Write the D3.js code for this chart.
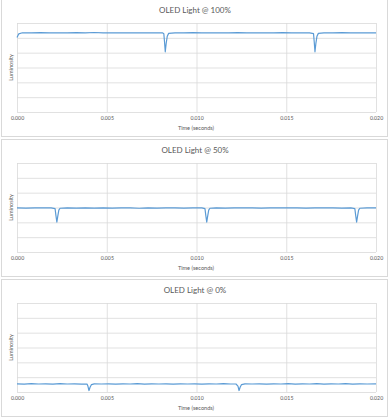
<!DOCTYPE html>
<html>
<head>
<meta charset="utf-8">
<script src="https://cdn.jsdelivr.net/npm/d3@7"></script>
<style>
    body { margin: 0; background: #fff; }
    svg { display: block; font-family: Lato, "Open Sans", sans-serif; }
</style>
</head>
<body>
<svg id="chart" width="390" height="419"></svg>
<script>
var titles = ["OLED Light @ 100%", "OLED Light @ 50%", "OLED Light @ 0%"];
var xTicks = [0, 0.005, 0.010, 0.015, 0.020];
var yTicks = [0, 1, 2, 3, 4, 5, 6];

// [time (s), luminosity]
var light100 = [
    [0.0000, 5.02], [0.0001, 5.27], [0.0003, 5.34], [0.0008, 5.33], [0.0013, 5.35],
    [0.0018, 5.33], [0.0023, 5.34], [0.0028, 5.33], [0.0033, 5.35], [0.0038, 5.34],
    [0.0043, 5.36], [0.0048, 5.33], [0.0053, 5.34], [0.0058, 5.34], [0.0063, 5.33],
    [0.0068, 5.34], [0.0073, 5.33], [0.0078, 5.34], [0.0081, 5.34], [0.00818, 5.28],
    [0.00822, 4.70], [0.00826, 4.06], [0.00831, 4.62], [0.00837, 5.10], [0.00845, 5.30],
    [0.0088, 5.34], [0.0093, 5.33], [0.0098, 5.35], [0.0103, 5.34], [0.0108, 5.33],
    [0.0113, 5.34], [0.0118, 5.33], [0.0123, 5.35], [0.0128, 5.34], [0.0133, 5.33],
    [0.0138, 5.34], [0.0143, 5.33], [0.0148, 5.35], [0.0153, 5.34], [0.0158, 5.34],
    [0.0163, 5.33], [0.01652, 5.28], [0.01656, 4.70], [0.01660, 4.06], [0.01665, 4.62],
    [0.01671, 5.10], [0.01679, 5.30], [0.0171, 5.34], [0.0176, 5.33], [0.0181, 5.35],
    [0.0186, 5.34], [0.0191, 5.33], [0.0196, 5.34], [0.0200, 5.34]
];

var light50 = [
    [0.0000, 2.97], [0.0005, 2.96], [0.0010, 2.98], [0.0015, 2.97], [0.0019, 2.97],
    [0.00212, 2.93], [0.00217, 2.45], [0.00222, 2.02], [0.00227, 2.40], [0.00233, 2.82],
    [0.0024, 2.95], [0.0028, 2.97], [0.0033, 2.96], [0.0038, 2.98], [0.0043, 2.96],
    [0.0048, 2.97], [0.0053, 2.96], [0.0058, 2.97], [0.0063, 2.97], [0.0068, 2.95],
    [0.0073, 2.97], [0.0078, 2.96], [0.0083, 2.97], [0.0088, 2.97], [0.0093, 2.96],
    [0.0098, 2.97], [0.0103, 2.97], [0.01047, 2.93], [0.01052, 2.45], [0.01057, 2.02],
    [0.01062, 2.40], [0.01068, 2.82], [0.01075, 2.95], [0.0111, 2.97], [0.0116, 2.96],
    [0.0121, 2.98], [0.0126, 2.97], [0.0131, 2.97], [0.0136, 2.96], [0.0141, 2.97],
    [0.0146, 2.98], [0.0151, 2.97], [0.0156, 2.97], [0.0161, 2.96], [0.0166, 2.98],
    [0.0171, 2.97], [0.0176, 2.97], [0.0181, 2.96], [0.0186, 2.97], [0.01882, 2.93],
    [0.01887, 2.45], [0.01892, 2.02], [0.01897, 2.40], [0.01903, 2.82], [0.0191, 2.95],
    [0.0195, 2.97], [0.0200, 2.97]
];

var light0 = [
    [0.0000, 0.55], [0.0004, 0.53], [0.0008, 0.56], [0.0012, 0.54], [0.0016, 0.55],
    [0.0020, 0.53], [0.0024, 0.56], [0.0028, 0.54], [0.0032, 0.55], [0.0036, 0.53],
    [0.0039, 0.54], [0.00395, 0.40], [0.00401, 0.10], [0.00407, 0.32], [0.00415, 0.50],
    [0.0043, 0.55], [0.0047, 0.54], [0.0051, 0.55], [0.0055, 0.53], [0.0059, 0.55],
    [0.0063, 0.54], [0.0067, 0.56], [0.0071, 0.53], [0.0075, 0.55], [0.0079, 0.54],
    [0.0083, 0.55], [0.0087, 0.53], [0.0091, 0.55], [0.0095, 0.54], [0.0099, 0.55],
    [0.0103, 0.53], [0.0107, 0.55], [0.0111, 0.54], [0.0115, 0.56], [0.0119, 0.54],
    [0.0122, 0.54], [0.01231, 0.40], [0.01237, 0.10], [0.01243, 0.32], [0.01251, 0.50],
    [0.0127, 0.55], [0.0131, 0.54], [0.0135, 0.55], [0.0139, 0.53], [0.0143, 0.55],
    [0.0147, 0.54], [0.0151, 0.56], [0.0155, 0.53], [0.0159, 0.55], [0.0163, 0.54],
    [0.0167, 0.56], [0.0171, 0.53], [0.0175, 0.55], [0.0179, 0.54], [0.0183, 0.56],
    [0.0187, 0.53], [0.0191, 0.55], [0.0195, 0.54], [0.0200, 0.55]
];

var series = [light100, light50, light0];

var Panels = {
    left: 17,
    right: 376,
    top: 23,
    bottom: 112,
    step: 140,

    render: function (svg) {
        var me = this;
        var x = d3.scaleLinear().domain([0, 0.02]).range([this.left, this.right]);
        var y = d3.scaleLinear().domain([0, 6]).range([this.bottom, this.top]);

        var panels = svg.selectAll("g.panel")
            .data(series)
            .enter()
            .append("g")
                .attr("class", "panel")
                .attr("transform", function (d, i) {
                    return "translate(0," + (i * me.step) + ")";
                });

        // frame
        panels.append("rect")
            .attr("x", 1.5)
            .attr("y", -0.5)
            .attr("width", 386)
            .attr("height", 137)
            .attr("fill", "#fff")
            .attr("stroke", "#d9d9d9");

        // horizontal grid
        panels.append("g")
            .attr("transform", "translate(" + this.left + ",0)")
            .call(d3.axisLeft(y).tickValues(yTicks).tickSize(-(this.right - this.left)).tickFormat(""))
            .call(function (g) {
                g.select(".domain").remove();
                g.selectAll("line").attr("stroke", "#d9d9d9").attr("stroke-width", 0.8);
            });

        // vertical grid + tick labels
        panels.append("g")
            .attr("transform", "translate(0," + this.bottom + ")")
            .call(d3.axisBottom(x).tickValues(xTicks).tickSize(-(this.bottom - this.top)).tickPadding(4).tickFormat(d3.format(".3f")))
            .call(function (g) {
                g.select(".domain").remove();
                g.selectAll("line").attr("stroke", "#d9d9d9").attr("stroke-width", 0.8);
                g.selectAll("text")
                    .attr("fill", "#595959")
                    .attr("font-size", 5.2)
                    .attr("font-family", "Lato, 'Open Sans', sans-serif");
            });

        panels.append("text")
            .attr("x", 195)
            .attr("y", 13)
            .attr("text-anchor", "middle")
            .attr("font-size", 8)
            .attr("fill", "#595959")
            .text(function (d, i) {
                return titles[i];
            });

        panels.append("text")
            .attr("x", 196)
            .attr("y", 130)
            .attr("text-anchor", "middle")
            .attr("font-size", 5.6)
            .attr("fill", "#595959")
            .text("Time (seconds)");

        panels.append("text")
            .attr("transform", "translate(13," + ((this.top + this.bottom) / 2) + ") rotate(-90)")
            .attr("text-anchor", "middle")
            .attr("font-size", 5.6)
            .attr("fill", "#595959")
            .text("Luminosity");

        var line = d3.line()
            .x(function (p) { return x(p[0]); })
            .y(function (p) { return y(p[1]); });

        panels.append("path")
            .attr("d", function (d) { return line(d); })
            .attr("fill", "none")
            .attr("stroke", "#5b9bd5")
            .attr("stroke-width", 1.2)
            .attr("stroke-linejoin", "round");
    }
};

Panels.render(d3.select("#chart"));
</script>
</body>
</html>
